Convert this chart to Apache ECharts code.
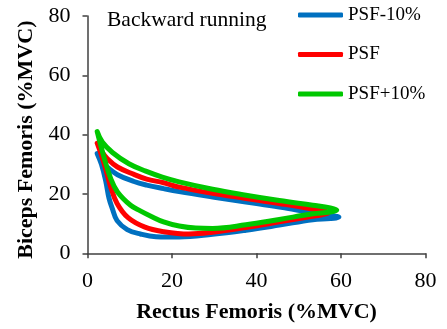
<!DOCTYPE html>
<html>
<head>
<meta charset="utf-8">
<script src="https://cdn.jsdelivr.net/npm/echarts@6/dist/echarts.min.js"></script>
<style>
  html, body { margin: 0; padding: 0; background: #fff; }
  #chart { width: 447px; height: 329px; }
</style>
</head>
<body>
<div id="chart"></div>
<script>
// Rectus femoris vs biceps femoris activation loops (%MVC), backward running
const seriesNames = ['PSF-10%', 'PSF', 'PSF+10%'];
const seriesColors = ['#0070C0', '#FF0000', '#00C800'];

// PSF-10%: loop traced from the upper-left tip, along the upper branch, back along the lower branch
const rfMinus10 = [2.3, 3.2, 4.7, 7.1, 11, 14, 18, 21.7, 29.6, 37.5, 45.4, 53.3, 57.5, 59.5,
                   57.5, 53.3, 45.4, 37.5, 29.6, 21.7, 16.2, 12.5, 9.4, 7, 5.9, 5.1, 4.3, 3.3, 2.3];
const bfMinus10 = [33.6, 31.0, 29.0, 26.5, 24.2, 23, 21.8, 20.8, 19.0, 17.3, 15.6, 13.7, 12.8, 12.2,
                   11.7, 11.3, 9.5, 7.8, 6.4, 5.5, 5.6, 6.5, 8, 11, 15, 18.5, 24.5, 30, 33.6];

// PSF
const rfPsf = [2.3, 3.3, 4.7, 7.1, 11, 14, 18, 21.7, 29.6, 37.5, 45.4, 53.3, 57,
               55.5, 53.3, 45.4, 37.5, 29.6, 24, 18, 13.6, 9.6, 7, 5.5, 4.2, 3.2, 2.3];
const bfPsf = [37.1, 34.5, 31.9, 29.1, 26.6, 25, 23.8, 22.3, 20.2, 18.5, 16.8, 14.9, 13.7,
               13.0, 12.5, 10.6, 8.7, 7.1, 6.5, 7.3, 8.8, 12, 16.8, 22.3, 29, 33.5, 37.1];

// PSF+10%
const rfPlus10 = [2.3, 3.5, 5.9, 9.8, 13.8, 17.7, 21.7, 29.6, 37.5, 45.4, 53.3, 57.5, 59,
                  57.5, 53.3, 45.4, 37.5, 29.6, 25.6, 21.7, 18, 15, 12.5, 10.2, 7.1, 5.5, 3.9, 2.3];
const bfPlus10 = [41, 37.5, 34, 30.2, 27.7, 25.7, 24.1, 21.6, 19.6, 17.8, 16.2, 15.3, 14.6,
                  13.9, 13.3, 11.4, 9.6, 8.4, 8.5, 9.2, 10.6, 12.5, 14.3, 16.2, 20.7, 25.2, 32.4, 41];

const axisTicks = [0, 20, 40, 60, 80];

function pairs(xs, ys) {
  return xs.map((x, i) => [x, ys[i]]);
}

const loops = [pairs(rfMinus10, bfMinus10), pairs(rfPsf, bfPsf), pairs(rfPlus10, bfPlus10)];

const serif = '"Liberation Serif", "Times New Roman", serif';
const axisColor = '#404040';

const chart = echarts.init(document.getElementById('chart'), null, { renderer: 'canvas' });

const axisCommon = {
  type: 'value',
  min: axisTicks[0],
  max: axisTicks[axisTicks.length - 1],
  interval: 20,
  splitLine: { show: false },
  axisLine: { show: true, lineStyle: { color: axisColor, width: 1.5 } },
  axisTick: { show: true, inside: false, length: 5, lineStyle: { color: axisColor, width: 1.5 } },
  axisLabel: { color: '#000', fontFamily: serif, fontSize: 22 },
  nameLocation: 'middle',
  nameTextStyle: { color: '#000', fontFamily: serif, fontSize: 22, fontWeight: 'bold' }
};

chart.setOption({
  animation: false,
  backgroundColor: '#fff',
  grid: { left: 87.5, right: 21.5, top: 16, bottom: 75.7, containLabel: false },
  title: {
    text: 'Backward running',
    left: 107,
    top: 9,
    padding: 0,
    textStyle: { color: '#000', fontFamily: serif, fontSize: 21.5, fontWeight: 'normal' }
  },
  legend: {
    data: seriesNames,
    orient: 'vertical',
    left: 298,
    top: 5,
    padding: 0,
    itemWidth: 45,
    itemHeight: 5,
    itemGap: 19.5,
    icon: 'roundRect',
    textStyle: { color: '#000', fontFamily: serif, fontSize: 19, lineHeight: 20 }
  },
  xAxis: Object.assign({}, axisCommon, {
    name: 'Rectus Femoris (%MVC)',
    nameGap: 48,
    axisLabel: Object.assign({}, axisCommon.axisLabel, { margin: 17 })
  }),
  yAxis: Object.assign({}, axisCommon, {
    name: 'Biceps Femoris (%MVC)',
    nameGap: 45,
    nameTextStyle: Object.assign({}, axisCommon.nameTextStyle, { padding: [0, 10, 0, 0] }),
    axisLabel: Object.assign({}, axisCommon.axisLabel, { margin: 17 })
  }),
  series: loops.map((d, i) => ({
    name: seriesNames[i],
    type: 'line',
    data: d,
    smooth: 0.4,
    showSymbol: false,
    symbol: 'none',
    color: seriesColors[i],
    lineStyle: { color: seriesColors[i], width: 5, cap: 'round', join: 'round' }
  }))
});
</script>
</body>
</html>
